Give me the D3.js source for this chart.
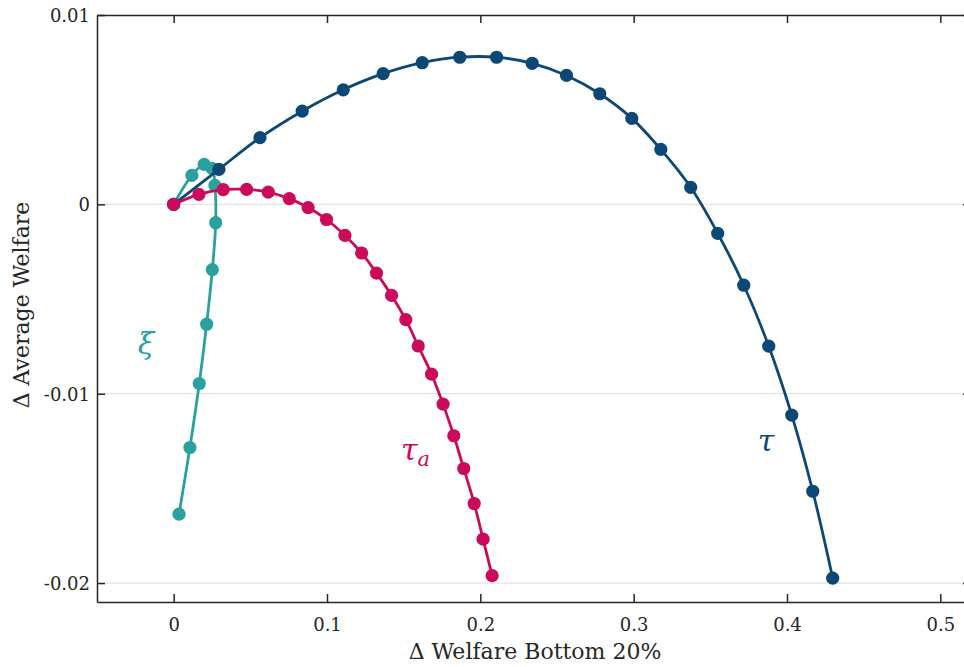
<!DOCTYPE html>
<html>
<head>
<meta charset="utf-8">
<script src="https://cdn.jsdelivr.net/npm/d3@7"></script>
<style>
  html, body { margin: 0; padding: 0; background: #fff; }
  svg { display: block; }
</style>
</head>
<body>
<svg id="chart" width="964" height="667"></svg>
<script>
// ---- data ----
const tauX   = [0, 0.0295, 0.0563, 0.0838, 0.1106, 0.1366, 0.1621, 0.1866, 0.2106, 0.2338, 0.2562, 0.2779, 0.2988, 0.3177, 0.3372, 0.3548, 0.3718, 0.3881, 0.4031, 0.4168, 0.4298];
const tauY   = [0, 0.00185, 0.00352, 0.00492, 0.00605, 0.00690, 0.00748, 0.00777, 0.00777, 0.00745, 0.00681, 0.00584, 0.00454, 0.00290, 0.00090, -0.00153, -0.00427, -0.00749, -0.01113, -0.01515, -0.01974];
const tauaX  = [0, 0.0165, 0.0323, 0.0476, 0.0617, 0.0754, 0.0877, 0.0997, 0.1117, 0.1226, 0.1323, 0.1421, 0.1514, 0.1595, 0.1682, 0.1757, 0.1827, 0.1892, 0.1960, 0.2018, 0.2077];
const tauaY  = [0, 0.00053, 0.00078, 0.00079, 0.00065, 0.00030, -0.00017, -0.00080, -0.00164, -0.00257, -0.00363, -0.00481, -0.00609, -0.00748, -0.00897, -0.01055, -0.01222, -0.01395, -0.01580, -0.01768, -0.01961];
const xiX    = [0, 0.0119, 0.0199, 0.0250, 0.0269, 0.0274, 0.0252, 0.0215, 0.0167, 0.0106, 0.0035];
const xiY    = [0, 0.00153, 0.00211, 0.00190, 0.00100, -0.00097, -0.00345, -0.00633, -0.00946, -0.01284, -0.01636];
const xTicks = [0, 0.1, 0.2, 0.3, 0.4, 0.5];
const xTickLabels = ["0", "0.1", "0.2", "0.3", "0.4", "0.5"];
const yTicks = [0.01, 0, -0.01, -0.02];
const yTickLabels = ["0.01", "0", "-0.01", "-0.02"];
const xLabel = "\u0394 Welfare Bottom 20%";
const yLabel = "\u0394 Average Welfare";

// ---- layout ----
const FONT = "DejaVu Serif";
const svg = d3.select("#chart");
const L = 97, R = 971, T = 15, B = 602;
const x = d3.scaleLinear().domain([-0.05, 0.52]).range([L, R]);
const y = d3.scaleLinear().domain([-0.021, 0.01]).range([B, T]);
const axisColor = "#262626";

// grid
svg.append("g").selectAll("line").data(yTicks.filter(v => v < 0.01)).join("line")
  .attr("x1", L).attr("x2", R).attr("y1", d => y(d)).attr("y2", d => y(d))
  .attr("stroke", "#e3e3e3").attr("stroke-width", 1.2);

// axes (ticks inward)
const tickLen = 8;
const gB = svg.append("g").attr("transform", `translate(0,${B})`)
  .call(d3.axisBottom(x).tickValues(xTicks).tickSizeInner(-tickLen).tickSizeOuter(0).tickPadding(16)
    .tickFormat((d, i) => xTickLabels[i]));
const gT = svg.append("g").attr("transform", `translate(0,${T})`)
  .call(d3.axisTop(x).tickValues(xTicks).tickSizeInner(-tickLen).tickSizeOuter(0).tickFormat(""));
const gL = svg.append("g").attr("transform", `translate(${L},0)`)
  .call(d3.axisLeft(y).tickValues(yTicks).tickSizeInner(-tickLen).tickSizeOuter(0).tickPadding(7)
    .tickFormat((d, i) => yTickLabels[i]));
const gR = svg.append("g").attr("transform", `translate(${R},0)`)
  .call(d3.axisRight(y).tickValues(yTicks).tickSizeInner(-tickLen).tickSizeOuter(0).tickFormat(""));
[gB, gT, gL, gR].forEach(g => {
  g.attr("font-family", FONT);
  g.select(".domain").attr("stroke", axisColor).attr("stroke-width", 1.5);
  g.selectAll(".tick line").attr("stroke", axisColor).attr("stroke-width", 1.5);
  g.selectAll(".tick text").attr("fill", axisColor).attr("font-size", 18).attr("font-family", FONT);
});
gL.selectAll(".tick text").attr("dy", "0.36em");

// axis labels
svg.append("text").attr("x", 535).attr("y", 659).attr("text-anchor", "middle")
  .attr("font-family", FONT).attr("font-size", 22).attr("fill", axisColor).text(xLabel);
svg.append("text").attr("transform", "translate(29,305) rotate(-90)").attr("text-anchor", "middle")
  .attr("font-family", FONT).attr("font-size", 22).attr("fill", axisColor).text(yLabel);

// series
const series = [
  { xs: xiX, ys: xiY, color: "#2aa19e" },
  { xs: tauX, ys: tauY, color: "#0b4876" },
  { xs: tauaX, ys: tauaY, color: "#cc0a5c" }
];
const line = d3.line().x(d => x(d[0])).y(d => y(d[1])).curve(d3.curveCatmullRom.alpha(0.5));
series.forEach(s => {
  const pts = s.xs.map((v, i) => [v, s.ys[i]]);
  const g = svg.append("g");
  g.append("path").datum(pts).attr("d", line).attr("fill", "none")
    .attr("stroke", s.color).attr("stroke-width", 2.8);
  g.selectAll("circle").data(pts).join("circle")
    .attr("cx", d => x(d[0])).attr("cy", d => y(d[1])).attr("r", 6.6)
    .attr("fill", s.color);
});

// annotations
svg.append("text").attr("x", 146).attr("y", 354).attr("text-anchor", "middle")
  .attr("font-family", FONT).attr("font-size", 30).attr("font-style", "italic")
  .attr("fill", "#2aa19e").text("\u03BE");
const ta = svg.append("text").attr("x", 401).attr("y", 460)
  .attr("font-family", FONT).attr("font-size", 30).attr("font-style", "italic").attr("fill", "#cc0a5c");
ta.append("tspan").text("\u03C4");
ta.append("tspan").attr("dy", 6).attr("font-size", 21).text("a");
svg.append("text").attr("x", 766).attr("y", 451).attr("text-anchor", "middle")
  .attr("font-family", FONT).attr("font-size", 30).attr("font-style", "italic")
  .attr("fill", "#0b4876").text("\u03C4");
</script>
</body>
</html>
